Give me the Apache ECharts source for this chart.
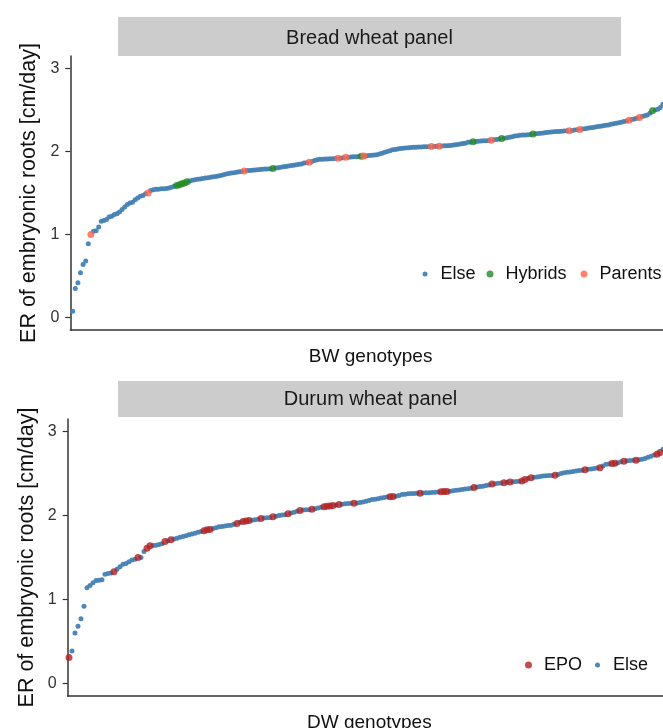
<!DOCTYPE html>
<html>
<head>
<meta charset="utf-8">
<script src="https://cdn.jsdelivr.net/npm/echarts@6/dist/echarts.min.js"></script>
<style>
html,body{margin:0;padding:0;background:#fff;}
#c{width:663px;height:728px;}
</style>
</head>
<body>
<div id="c"></div>
<script>
// Bread wheat panel: sorted ER values (cm/day), one per genotype rank
const bwValues = [
0.076,0.35,0.42,0.54,0.64,0.68,0.89,1.00,1.04,1.045,
1.09,1.16,1.17,1.18,1.21,1.22,1.24,1.25,1.27,1.30,
1.33,1.36,1.38,1.39,1.42,1.44,1.46,1.47,1.49,1.50,
1.53,1.54,1.545,1.545,1.55,1.55,1.555,1.56,1.57,1.58,
1.59,1.60,1.61,1.62,1.635,1.645,1.655,1.66,1.665,1.67,
1.675,1.68,1.685,1.69,1.695,1.70,1.705,1.71,1.72,1.73,
1.735,1.74,1.745,1.75,1.755,1.758,1.765,1.77,1.772,1.775,
1.778,1.78,1.783,1.786,1.788,1.79,1.792,1.795,1.80,1.805,
1.81,1.815,1.82,1.825,1.83,1.835,1.84,1.845,1.85,1.86,
1.865,1.87,1.88,1.89,1.90,1.905,1.907,1.909,1.91,1.912,
1.914,1.916,1.918,1.92,1.925,1.93,1.932,1.934,1.936,1.938,
1.94,1.944,1.947,1.95,1.952,1.955,1.958,1.962,1.97,1.98,
1.99,2.00,2.01,2.02,2.025,2.03,2.035,2.04,2.043,2.046,
2.048,2.05,2.052,2.054,2.055,2.056,2.057,2.058,2.059,2.06,
2.062,2.064,2.066,2.068,2.07,2.073,2.076,2.08,2.085,2.09,
2.095,2.10,2.11,2.115,2.117,2.12,2.123,2.126,2.128,2.13,
2.133,2.136,2.14,2.145,2.15,2.156,2.16,2.166,2.172,2.178,
2.185,2.19,2.195,2.198,2.20,2.203,2.206,2.21,2.213,2.216,
2.22,2.224,2.228,2.232,2.236,2.238,2.24,2.242,2.245,2.248,
2.249,2.25,2.254,2.258,2.262,2.265,2.27,2.275,2.28,2.285,
2.29,2.296,2.30,2.305,2.31,2.315,2.32,2.328,2.334,2.34,
2.345,2.352,2.36,2.368,2.376,2.385,2.39,2.40,2.41,2.42,
2.43,2.44,2.46,2.49,2.50,2.51,2.53,2.57,2.60
];
// ranks of highlighted genotypes in the bread wheat panel
const bwHybrids = [40,41,42,43,44,77,111,154,165,177,223];
const bwParents = [7,29,66,91,102,105,112,138,141,161,191,195,214,218];

// Durum wheat panel: sorted ER values (cm/day)
const dwValues = [
0.31,0.385,0.60,0.68,0.77,0.92,1.14,1.165,1.20,1.225,
1.23,1.235,1.30,1.31,1.315,1.33,1.36,1.39,1.42,1.43,
1.45,1.47,1.48,1.50,1.50,1.57,1.61,1.64,1.643,1.647,
1.655,1.665,1.69,1.70,1.71,1.72,1.73,1.74,1.75,1.76,
1.77,1.78,1.79,1.80,1.81,1.82,1.83,1.835,1.845,1.855,
1.865,1.87,1.875,1.88,1.885,1.895,1.905,1.92,1.93,1.935,
1.94,1.945,1.95,1.955,1.965,1.97,1.975,1.978,1.985,1.99,
2.00,2.005,2.01,2.02,2.03,2.04,2.05,2.06,2.065,2.068,
2.07,2.075,2.08,2.09,2.10,2.105,2.11,2.115,2.12,2.125,
2.13,2.135,2.14,2.143,2.145,2.146,2.15,2.155,2.16,2.17,
2.18,2.19,2.195,2.20,2.21,2.215,2.22,2.223,2.226,2.23,
2.24,2.25,2.255,2.26,2.262,2.263,2.264,2.265,2.268,2.27,
2.272,2.275,2.278,2.28,2.283,2.285,2.287,2.29,2.295,2.30,
2.305,2.31,2.315,2.32,2.325,2.333,2.34,2.345,2.35,2.357,
2.365,2.375,2.38,2.385,2.388,2.39,2.395,2.40,2.403,2.405,
2.408,2.41,2.43,2.44,2.45,2.455,2.46,2.465,2.47,2.473,
2.476,2.478,2.48,2.49,2.50,2.51,2.515,2.52,2.525,2.53,
2.535,2.54,2.545,2.55,2.555,2.56,2.565,2.57,2.59,2.61,
2.615,2.62,2.622,2.63,2.64,2.648,2.652,2.655,2.658,2.66,
2.665,2.67,2.68,2.695,2.705,2.72,2.73,2.75,2.79,2.82
];
const dwEPO = [0,15,23,26,27,32,34,45,46,47,56,58,59,60,64,68,73,77,81,85,86,87,88,90,95,
107,108,117,124,125,126,135,141,145,147,151,152,154,162,172,177,181,182,185,189,196,197];

const yTicks = [0, 1, 2, 3];
const yTitle = 'ER of embryonic roots [cm/day]';

const FONT = '"Liberation Sans", Arial, Helvetica, sans-serif';
const C_ELSE = '#4682B4', C_HYB = '#228B22', C_PAR = '#FF6347', C_EPO = '#B22222';

function pick(values, idx) { return idx.map(i => [i, values[i]]); }
function rest(values, excl) {
  const s = new Set(excl);
  const out = [];
  values.forEach((v, i) => { if (!s.has(i)) out.push([i, v]); });
  return out;
}

function yAxisCfg(gridIndex) {
  return {
    gridIndex, type: 'value', min: -0.15, max: 3.15,
    name: yTitle, nameLocation: 'middle', nameGap: 30, nameRotate: 90,
    nameMoveOverlap: false,
    nameTextStyle: { fontSize: 21.5, color: '#111', fontFamily: FONT },
    axisLine: { show: true, onZero: false, lineStyle: { color: '#333', width: 1.5 } },
    axisTick: { show: true, length: 5, customValues: yTicks, lineStyle: { color: '#333', width: 1.2 } },
    axisLabel: { customValues: yTicks, fontSize: 16, color: '#333', margin: 11, fontFamily: FONT,
                 formatter: v => String(v) },
    splitLine: { show: false }
  };
}
function xAxisCfg(gridIndex, name, min, max) {
  return {
    gridIndex, type: 'value', min, max,
    name, nameLocation: 'middle', nameGap: 17, nameMoveOverlap: false,
    nameTextStyle: { fontSize: 19, color: '#111', fontFamily: FONT },
    axisLine: { show: true, onZero: false, lineStyle: { color: '#333', width: 1.5 } },
    axisTick: { show: false }, axisLabel: { show: false }, splitLine: { show: false }
  };
}
function legendCfg(name, left, top, size) {
  return {
    data: [name], left, top, padding: 0, itemWidth: 21, itemHeight: size,
    icon: 'circle', symbolKeepAspect: true, selectedMode: false,
    textStyle: { fontSize: 18, color: '#111', fontFamily: FONT }
  };
}

const chart = echarts.init(document.getElementById('c'), null, { renderer: 'canvas' });
chart.setOption({
  animation: false,
  textStyle: { fontFamily: FONT },
  grid: [
    { left: 70.3, top: 56, height: 274, right: -8, outerBoundsMode: 'none' },
    { left: 67.7, top: 419, height: 277, right: -8, outerBoundsMode: 'none' }
  ],
  xAxis: [
    xAxisCfg(0, 'BW genotypes', -0.92, -0.92 + 600.7 / 2.6),
    xAxisCfg(1, 'DW genotypes', -0.43, -0.43 + 603.3 / 3)
  ],
  yAxis: [yAxisCfg(0), yAxisCfg(1)],
  legend: [
    legendCfg('Else', 422.5, 265, 5),
    legendCfg('Hybrids', 486.5, 265, 7),
    legendCfg('Parents', 580.5, 265, 7),
    legendCfg('EPO', 525, 656, 7),
    legendCfg('Else', 595, 656, 5)
  ],
  graphic: [
    { type: 'rect', shape: { x: 118, y: 17, width: 503, height: 39 }, style: { fill: '#CCCCCC' } },
    { type: 'text', x: 369.5, y: 38, style: { text: 'Bread wheat panel', fontSize: 20, fontFamily: FONT,
      fill: '#1a1a1a', align: 'center', verticalAlign: 'middle' } },
    { type: 'rect', shape: { x: 118, y: 381, width: 505, height: 36 }, style: { fill: '#CCCCCC' } },
    { type: 'text', x: 370.5, y: 399, style: { text: 'Durum wheat panel', fontSize: 20, fontFamily: FONT,
      fill: '#1a1a1a', align: 'center', verticalAlign: 'middle' } }
  ],
  series: [
    { name: 'Else', type: 'scatter', xAxisIndex: 0, yAxisIndex: 0, symbolSize: 5,
      itemStyle: { color: C_ELSE, opacity: 0.95 }, data: rest(bwValues, bwHybrids.concat(bwParents)) },
    { name: 'Hybrids', type: 'scatter', xAxisIndex: 0, yAxisIndex: 0, symbolSize: 7,
      itemStyle: { color: C_HYB }, data: pick(bwValues, bwHybrids) },
    { name: 'Parents', type: 'scatter', xAxisIndex: 0, yAxisIndex: 0, symbolSize: 7,
      itemStyle: { color: C_PAR }, data: pick(bwValues, bwParents) },
    { name: 'Else', type: 'scatter', xAxisIndex: 1, yAxisIndex: 1, symbolSize: 5,
      itemStyle: { color: C_ELSE, opacity: 0.95 }, data: rest(dwValues, dwEPO) },
    { name: 'EPO', type: 'scatter', xAxisIndex: 1, yAxisIndex: 1, symbolSize: 7,
      itemStyle: { color: C_EPO }, data: pick(dwValues, dwEPO) }
  ]
});
</script>
</body>
</html>
